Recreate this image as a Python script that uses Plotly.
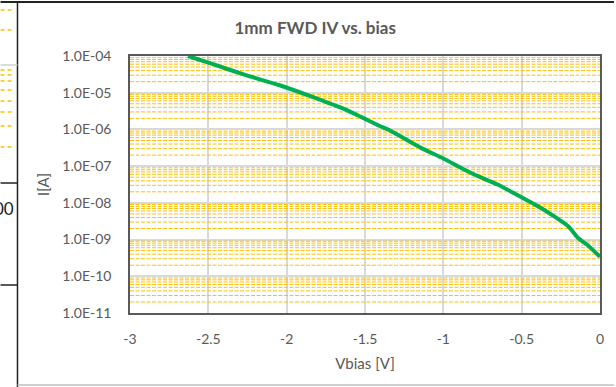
import plotly.graph_objects as go

# ---- data ----
vbias = [-2.63, -2.47, -2.26, -2.05, -1.84, -1.62, -1.41, -1.35, -1.14, -1.0,
         -0.82, -0.65, -0.5, -0.39, -0.29, -0.2, -0.14, -0.08, 0.0]
current = [1.0e-4, 6.0e-5, 3.0e-5, 1.62e-5, 7.8e-6, 3.4e-6, 1.26e-6, 9.8e-7,
           3.1e-7, 1.62e-7, 6.4e-8, 3.1e-8, 1.41e-8, 7.8e-9, 4.2e-9, 2.24e-9,
           1.1e-9, 7.1e-10, 3.4e-10]

y_major_vals = [1e-4, 1e-5, 1e-6, 1e-7, 1e-8, 1e-9, 1e-10, 1e-11]
y_major_text = ["1.0E-04", "1.0E-05", "1.0E-06", "1.0E-07", "1.0E-08",
                "1.0E-09", "1.0E-10", "1.0E-11"]
x_tick_vals = [-3, -2.5, -2, -1.5, -1, -0.5, 0]
x_tick_text = ["-3", "-2.5", "-2", "-1.5", "-1", "-0.5", "0"]
x_range = [-3, 0]

minor_vals = [m * d for d in [1e-11, 1e-10, 1e-9, 1e-8, 1e-7, 1e-6, 1e-5]
              for m in range(2, 10)]

W, H = 616, 387
L, R, T, B = 130, 602, 56, 313

def px(x):
    return (x - L) / (R - L)

def py(y):
    return (B - y) / (B - T)

GRAY = "#595959"
FONT = "Lato"

fig = go.Figure()

# minor (yellow dashed) horizontal gridlines, drawn as one line trace
gx, gy = [], []
for v in minor_vals:
    gx += [x_range[0], x_range[1], None]
    gy += [v, v, None]
fig.add_trace(go.Scatter(x=gx, y=gy, mode="lines",
                         line=dict(color="#FFC000", width=1, dash="4px,1.5px"),
                         showlegend=False, hoverinfo="skip", cliponaxis=True))

fig.add_trace(go.Scatter(x=vbias, y=current, mode="lines",
                         line=dict(color="#00B050", width=4, shape="spline",
                                   smoothing=0.5),
                         showlegend=False, hoverinfo="skip"))

fig.update_layout(
    width=W, height=H,
    margin=dict(l=L, r=W - R, t=T, b=H - B),
    paper_bgcolor="white", plot_bgcolor="white",
    font=dict(family=FONT, color=GRAY, size=14),
    title=dict(text="<b>1mm FWD IV vs. bias</b>", x=px(316), xref="paper",
               xanchor="center", y=1 - 28 / H, yanchor="middle",
               font=dict(size=17, color=GRAY, family=FONT)),
)

fig.update_xaxes(
    range=x_range, tickvals=x_tick_vals, ticktext=x_tick_text,
    showgrid=True, gridcolor="#D9D9D9", gridwidth=1.5,
    showline=True, linecolor=GRAY, linewidth=1.5, mirror=True,
    ticks="", ticklabelstandoff=12, zeroline=False,
    tickfont=dict(size=14, color=GRAY),
    title=dict(text="Vbias [V]", standoff=13, font=dict(size=15, color=GRAY)),
)

fig.update_yaxes(
    type="log", range=[-11, -4], tickvals=y_major_vals, ticktext=y_major_text,
    showgrid=True, gridcolor="#D9D9D9", gridwidth=1.5,
    showline=True, linecolor=GRAY, linewidth=1.5, mirror=True,
    ticks="", ticklabelstandoff=14, zeroline=False,
    tickfont=dict(size=14, color=GRAY),
    title=dict(text="I[A]", standoff=9, font=dict(size=15, color=GRAY)),
)

# ---- surrounding spreadsheet / chart-frame decorations ----
shapes = []
def line(x0, y0, x1, y1, color, w=1.5, dash="solid"):
    shapes.append(dict(type="line", xref="paper", yref="paper",
                       x0=px(x0), y0=py(y0), x1=px(x1), y1=py(y1),
                       line=dict(color=color, width=w, dash=dash), layer="above"))

line(0, 2, 616, 2, "#222222", 2)          # top border
line(17, 2, 17, 387, "#222222", 1.5)      # left chart border
line(17, 385, 616, 385, "#BFBFBF", 1.5)   # bottom chart border
line(0, 65, 17, 65, "#D0D0D0", 1.5)       # sheet cell line
line(0, 183, 17, 183, "#222222", 1.5)
line(0, 285, 17, 285, "#222222", 1.5)
for yy in [10, 30, 70, 75, 81, 90, 101, 112, 126, 147]:
    line(0, yy, 12, yy, "#FFC000", 1.5, "4px,3px")
fig.update_layout(shapes=shapes)
fig.add_annotation(text="00", xref="paper", yref="paper", x=px(16), y=py(208),
                   xanchor="right", yanchor="middle", showarrow=False,
                   font=dict(size=17, color="#222222", family=FONT))

fig.write_html("out.html")
